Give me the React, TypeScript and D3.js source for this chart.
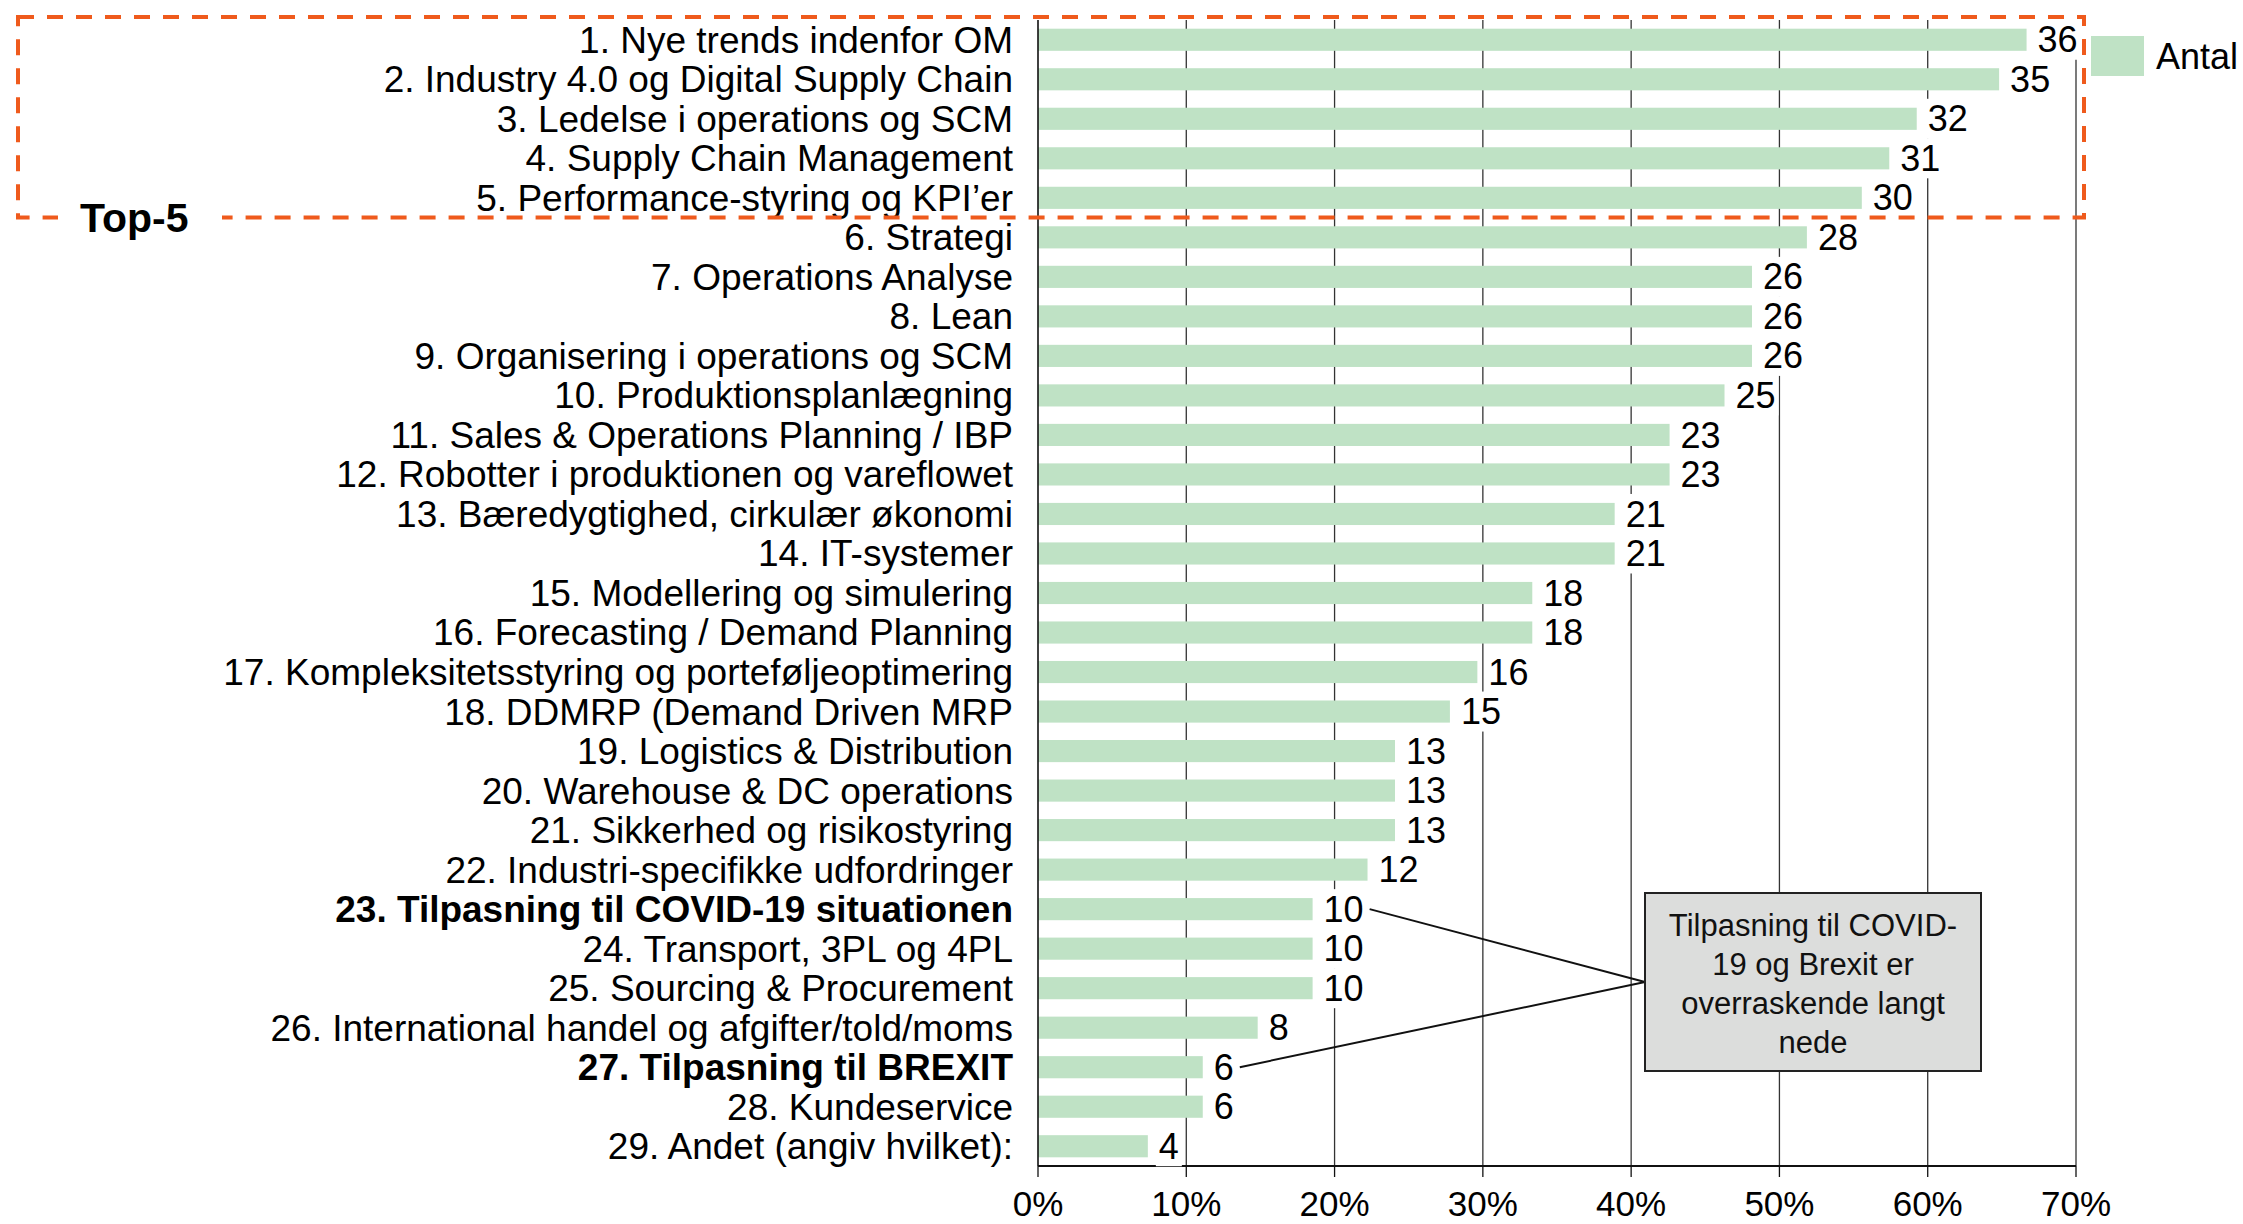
import React from 'react';
import * as d3 from 'd3';

const categories = [
  '1. Nye trends indenfor OM',
  '2. Industry 4.0 og Digital Supply Chain',
  '3. Ledelse i operations og SCM',
  '4. Supply Chain Management',
  '5. Performance-styring og KPI\u2019er',
  '6. Strategi',
  '7. Operations Analyse',
  '8. Lean',
  '9. Organisering i operations og SCM',
  '10. Produktionsplanlægning',
  '11. Sales & Operations Planning / IBP',
  '12. Robotter i produktionen og vareflowet',
  '13. Bæredygtighed, cirkulær økonomi',
  '14. IT-systemer',
  '15. Modellering og simulering',
  '16. Forecasting / Demand Planning',
  '17. Kompleksitetsstyring og porteføljeoptimering',
  '18. DDMRP (Demand Driven MRP',
  '19. Logistics & Distribution',
  '20. Warehouse & DC operations',
  '21. Sikkerhed og risikostyring',
  '22. Industri-specifikke udfordringer',
  '23. Tilpasning til COVID-19 situationen',
  '24. Transport, 3PL og 4PL',
  '25. Sourcing & Procurement',
  '26. International handel og afgifter/told/moms',
  '27. Tilpasning til BREXIT',
  '28. Kundeservice',
  '29. Andet (angiv hvilket):',
];
const counts = [36, 35, 32, 31, 30, 28, 26, 26, 26, 25, 23, 23, 21, 21, 18, 18, 16, 15, 13, 13, 13, 12, 10, 10, 10, 8, 6, 6, 4];
const respondents = 54;
const boldCategories = ['23. Tilpasning til COVID-19 situationen', '27. Tilpasning til BREXIT'];
const xTicks = [0, 0.1, 0.2, 0.3, 0.4, 0.5, 0.6, 0.7];
const legendLabel = 'Antal';
const topLabel = 'Top-5';
const topCount = 5;
const calloutLines = ['Tilpasning til COVID-', '19 og Brexit er', 'overraskende langt', 'nede'];
const calloutTargets = ['23. Tilpasning til COVID-19 situationen', '27. Tilpasning til BREXIT'];

const W = 2243;
const H = 1224;
const FONT = '"Liberation Sans", Arial, sans-serif';
const BAR = '#bfe2c5';
const ORANGE = '#ef5a1c';

export default function App() {
  const x = d3.scaleLinear().domain([0, 0.7]).range([1038, 2076]);
  const y = d3.scaleBand<string>().domain(categories).range([20, 1166]).paddingInner(0.44).paddingOuter(0.22);
  const bw = y.bandwidth();
  const step = y.step();
  const valFont = 36;
  const digitW = 0.556 * valFont;
  const labelGap = 11;

  const valueLabel = (i: number) => {
    const v = counts[i] / respondents;
    const tx = x(v) + labelGap;
    const w = String(counts[i]).length * digitW;
    const cy = (y(categories[i]) as number) + bw / 2;
    return { tx, w, cy };
  };

  // dashed box around top-5
  const boxTop = (y(categories[0]) as number) - (y.paddingOuter() * step) - 3;
  const boxBottom = (y(categories[topCount]) as number) - (step - bw) / 2;

  const cbox = { x0: 1645, x1: 1981, y0: 893, y1: 1071 };
  const cMid = (cbox.y0 + cbox.y1) / 2;

  return (
    <svg width={W} height={H} style={{ position: 'absolute', left: 0, top: 0, display: 'block', background: '#fff' }} fontFamily={FONT}>
      {/* gridlines */}
      {xTicks.slice(1).map((t) => (
        <line key={'g' + t} x1={x(t)} x2={x(t)} y1={20} y2={1166} stroke="#333" strokeWidth={1.3} />
      ))}
      {/* bars */}
      {categories.map((c, i) => (
        <rect key={'b' + i} x={x(0)} y={y(c)} width={x(counts[i] / respondents) - x(0)} height={bw} fill={BAR} />
      ))}
      {/* left axis */}
      <line x1={x(0)} x2={x(0)} y1={20} y2={1166} stroke="#111" strokeWidth={1.6} />
      {/* bottom axis */}
      <line x1={x(0)} x2={x(0.7)} y1={1166} y2={1166} stroke="#111" strokeWidth={2.2} />
      {xTicks.map((t) => (
        <g key={'t' + t}>
          <line x1={x(t)} x2={x(t)} y1={1166} y2={1177} stroke="#111" strokeWidth={1.3} />
          <text x={x(t)} y={1204} dy="0.35em" textAnchor="middle" fontSize={35} fill="#000">
            {d3.format('.0%')(t)}
          </text>
        </g>
      ))}
      {/* category labels */}
      {categories.map((c) => (
        <text
          key={'l' + c}
          x={x(0) - 25}
          y={(y(c) as number) + bw / 2}
          dy="0.35em"
          textAnchor="end"
          fontSize={37}
          fontWeight={boldCategories.includes(c) ? 'bold' : 'normal'}
          fill="#000"
        >
          {c}
        </text>
      ))}
      {/* value labels */}
      {categories.map((c, i) => {
        const { tx, w, cy } = valueLabel(i);
        return (
          <g key={'v' + i}>
            <rect x={tx - 3} y={cy - 20} width={w + 6} height={40} fill="#fff" />
            <text x={tx} y={cy} dy="0.35em" fontSize={valFont} fill="#000">
              {counts[i]}
            </text>
          </g>
        );
      })}
      {/* callout lines */}
      {calloutTargets.map((c) => {
        const i = categories.indexOf(c);
        const { tx, w, cy } = valueLabel(i);
        return <line key={'cl' + c} x1={tx + w + 6} y1={cy} x2={cbox.x0} y2={cMid} stroke="#111" strokeWidth={2} />;
      })}
      {/* callout box */}
      <rect x={cbox.x0} y={cbox.y0} width={cbox.x1 - cbox.x0} height={cbox.y1 - cbox.y0} fill="#dcdddc" stroke="#222" strokeWidth={2} />
      {calloutLines.map((l, k) => (
        <text key={'ct' + k} x={(cbox.x0 + cbox.x1) / 2} y={925 + k * 39} dy="0.35em" textAnchor="middle" fontSize={31} fill="#111">
          {l}
        </text>
      ))}
      {/* legend */}
      <rect x={2091} y={36} width={53} height={40} fill={BAR} />
      <text x={2156} y={56} dy="0.35em" fontSize={36} fill="#000">
        {legendLabel}
      </text>
      {/* top-5 dashed box */}
      <rect
        x={18}
        y={boxTop}
        width={2084 - 18}
        height={boxBottom - boxTop}
        fill="none"
        stroke={ORANGE}
        strokeWidth={4}
        strokeDasharray="16 13"
      />
      <rect x={58} y={boxBottom - 18} width={164} height={40} fill="#fff" />
      <text x={80} y={232} fontSize={41} fontWeight="bold" fill="#000">
        {topLabel}
      </text>
    </svg>
  );
}
